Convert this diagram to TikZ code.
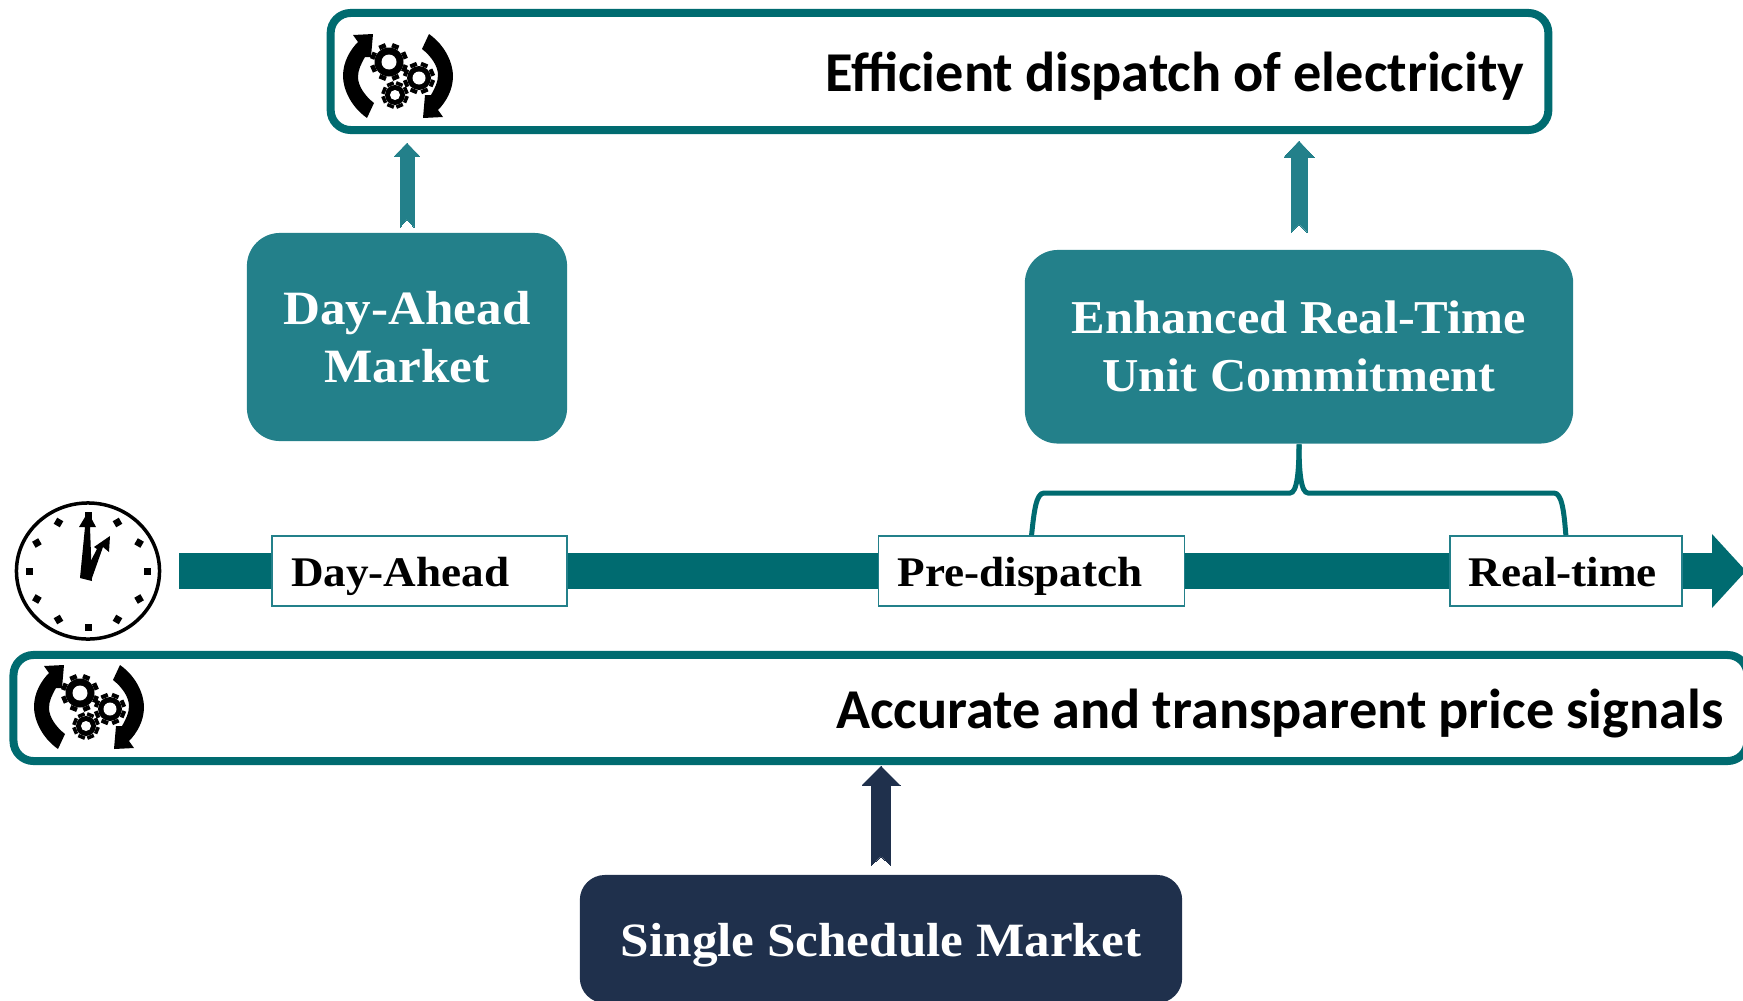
\documentclass[tikz,border=0pt]{standalone}
\usepackage{fontspec}
\setmainfont{Liberation Serif}
\newfontfamily\goalfont{Carlito}
\newfontfamily\palfont[FakeStretch=1.07]{Liberation Serif}
\usetikzlibrary{arrows.meta,calc,shapes.geometric}
\definecolor{tealdark}{HTML}{006B70}
\definecolor{tealblock}{HTML}{23808A}
\definecolor{navyblock}{HTML}{1F304C}
% block arrow with a notched tail: style, from, to, half shaft, half head, head length, notch
\newcommand{\notcharrow}[7]{
\draw[#1] let \p1=(#2), \p2=(#3) in
  (\x1-#4,\y1) -- (\x1,\y1+#7) -- (\x1+#4,\y1) -- (\x1+#4,\y2-#6) -- (\x1+#5,\y2-#6)
  -- (\x1,\y2) -- (\x1-#5,\y2-#6) -- (\x1-#4,\y2-#6) -- cycle;
}
% one gear: x, y, body radius, tooth tip radius, hole radius
\newcommand{\onegear}[5]{
\foreach \a in {0,45,...,315} {
  \draw[line width=.07cm,black] (#1,#2) ++(\a+22:#3) -- ++(\a+22:#4-#3);
}
\fill[black] (#1,#2) circle[radius=#3];
\fill[white] (#1,#2) circle[radius=#5];
}
\tikzset{
  gearicon/.pic={
    % the two turning arrows
    \foreach \r in {0,180} {
      \begin{scope}[rotate=\r]
        \fill[black] (-31,42) .. controls (-48,30) and (-55,12) .. (-55,0)
          .. controls (-55,-14) and (-48,-26) .. (-40,-34) -- (-45,-41)
          -- (-25,-42) -- (-27,-19) -- (-33,-19)
          .. controls (-37,-12) and (-40,-6) .. (-40,1)
          .. controls (-40,10) and (-33,20) .. (-24,27) -- cycle;
      \end{scope}
    }
    \onegear{-9}{-14}{14.5}{19}{7.5}
    \onegear{21}{2}{12}{16}{6.5}
    \onegear{-3}{19}{10}{13.5}{5}
  }
}
\begin{document}
\begin{tikzpicture}[
  x=0.01cm, y=-0.01cm,
  goalbox/.style={rectangle, draw=tealdark, fill=white, line width=.08cm, rounded corners=.2cm, inner xsep=.24cm, text height=13pt, text depth=1.4pt, align=right, font=\goalfont\fontsize{16}{19}\selectfont\bfseries, execute at begin node={\spaceskip=3.4pt\relax}},
  block/.style={rectangle, rounded corners=.33cm, text=white, align=center, font=\palfont\fontsize{13.6}{16.5}\selectfont\bfseries},
  timebox/.style={rectangle, draw=tealblock, fill=white, line width=.016cm, minimum height=.7cm, inner xsep=.19cm, text height=10pt, text depth=1.4pt, align=left, font=\palfont\fontsize{12}{15}\selectfont\bfseries},
  uparrow/.style={fill=#1, draw=#1, line width=0pt},
  bracket/.style={draw=tealdark, line width=.05cm}
]
\clip (0,0) rectangle (1743,1000);

\node[goalbox, minimum width=12.17cm, minimum height=1.17cm, text width=11.69cm] (dispatch) at (939.5,71.5) {Efficient dispatch of electricity};
\node[goalbox, minimum width=17.33cm, minimum height=1.06cm, text width=16.85cm] (price) at (880.5,708) {Accurate and transparent price signals};

\node[block, fill=tealblock, minimum width=3.2cm, minimum height=2.08cm] (dayblock) at (407,337) {Day-Ahead\\Market};
\node[block, fill=tealblock, minimum width=5.48cm, minimum height=1.935cm, font=\palfont\fontsize{13.4}{16.5}\selectfont\bfseries] (enhanced) at (1299,346.75) {Enhanced Real-Time\\Unit Commitment};
\node[block, fill=navyblock, minimum width=6.02cm, minimum height=1.28cm, rounded corners=.25cm, text height=11pt, text depth=1.3pt] (single) at (881,939) {Single Schedule Market};

% clock
\node[ellipse, draw=black, fill=white, line width=.035cm, minimum width=1.43cm, minimum height=1.36cm, inner sep=0pt, outer sep=0pt] (clock) at (88,571) {};
\foreach \a in {0,30,...,330} {
  \fill[black, shift={($(clock.center)+(\a:59 and 56)$)}, rotate=\a] (-3.5,-3.5) rectangle (3.5,3.5);
}
\fill[black] (80,578) -- (85,527) -- (79,527) -- (88,512) -- (96,527) -- (90,527) -- (92,581) -- cycle;
\fill[black] (86,570) -- (97,549) -- (94,547) -- (110,536) -- (109,552) -- (103,547) -- (92,578) -- cycle;

% time line
\coordinate (linestart) at (179,571);
\coordinate (lineend) at (1746,571);
\draw[line width=.36cm, draw=tealdark, -{Triangle[length=.34cm,width=.72cm]}] (linestart) -- (lineend);

\node[timebox, right of=clock, node distance=3.315cm, text width=2.57cm] (dayahead) {Day-Ahead};
\node[timebox, right of=dayahead, node distance=6.115cm, text width=2.68cm] (predispatch) {Pre-dispatch};
\node[timebox, right of=predispatch, node distance=5.34cm, text width=1.94cm] (realtime) {Real-time};

% icons
\pic at (398,76) {gearicon};
\pic at (89,707) {gearicon};

% arrows
\coordinate (daytip) at (dayblock.north |- dispatch.south);
\coordinate (enhtip) at (enhanced.north |- dispatch.south);
\coordinate (singletip) at (single.north |- price.south);
\notcharrow{uparrow=tealblock}{[yshift=.05cm]dayblock.north}{[yshift=-.09cm]daytip}{.07cm}{.125cm}{.13cm}{.08cm}
\notcharrow{uparrow=tealblock}{[yshift=.17cm]enhanced.north}{[yshift=-.07cm]enhtip}{.08cm}{.15cm}{.16cm}{.08cm}
\notcharrow{uparrow=navyblock}{[yshift=.09cm]single.north}{[yshift=-.01cm]singletip}{.095cm}{.19cm}{.19cm}{.09cm}

% bracket
\draw[bracket] (predispatch.north) .. controls (1034,512) and (1036,493) .. (1044,493) -- (1290,493) .. controls (1297,493) and (1299,472) .. (enhanced.south);
\draw[bracket] (realtime.north) .. controls (1564,512) and (1562,493) .. (1554,493) -- (1308,493) .. controls (1301,493) and (1299,472) .. (enhanced.south);
\end{tikzpicture}
\end{document}
